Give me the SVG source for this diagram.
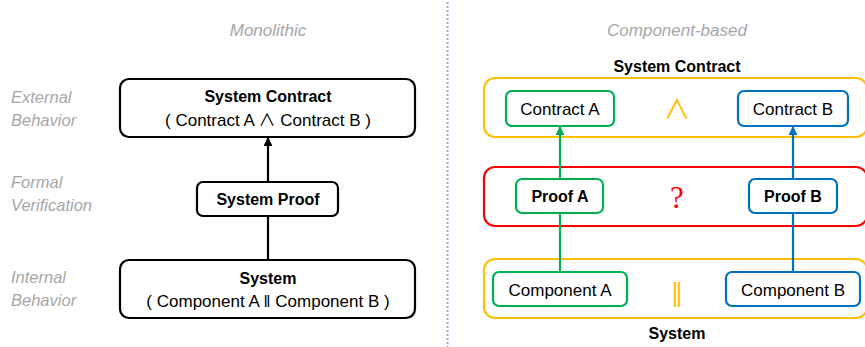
<svg xmlns="http://www.w3.org/2000/svg" width="865" height="347" viewBox="0 0 865 347">
  <style>
    .bg { fill: #ffffff; }
    .caption { font-family: "Liberation Sans", Arial, sans-serif; font-style: italic; font-size: 16.5px; fill: #a6a6a6; }
    .title { font-size: 17px; }
    .t { font-family: "Liberation Sans", Arial, sans-serif; font-size: 17px; fill: #000000; }
    .b { font-weight: bold; font-size: 16px; }
    .mid { text-anchor: middle; }
    .sym { font-family: "DejaVu Sans", sans-serif; }
    .wedge { font-family: "Noto Sans CJK SC", "DejaVu Sans", sans-serif; font-weight: 400; }
    .box { fill: #ffffff; stroke: #000000; stroke-width: 2.2; }
    .green { fill: #ffffff; stroke: #00b050; stroke-width: 2.2; }
    .blue { fill: #ffffff; stroke: #0070c0; stroke-width: 2.2; }
    .orange { fill: none; stroke: #ffc000; stroke-width: 2.2; }
    .red { fill: none; stroke: #ff0000; stroke-width: 2.2; }
    .divider { stroke: #8faadc; stroke-width: 2; stroke-dasharray: 2 2; }
  </style>
  <defs>
    <marker id="arrow-black" viewBox="0 0 10 10" refX="9" refY="5" markerWidth="4" markerHeight="4" orient="auto">
      <path d="M0,0 L10,5 L0,10 z" fill="#000000"/>
    </marker>
    <marker id="arrow-green" viewBox="0 0 10 10" refX="9" refY="5" markerWidth="4" markerHeight="4" orient="auto">
      <path d="M0,0 L10,5 L0,10 z" fill="#00b050"/>
    </marker>
    <marker id="arrow-blue" viewBox="0 0 10 10" refX="9" refY="5" markerWidth="4" markerHeight="4" orient="auto">
      <path d="M0,0 L10,5 L0,10 z" fill="#0070c0"/>
    </marker>
  </defs>

  <rect class="bg" x="0" y="0" width="865" height="347"/>

  <!-- column titles -->
  <text class="caption title mid" x="268" y="36">Monolithic</text>
  <text class="caption title mid" x="677" y="36">Component-based</text>

  <!-- row labels -->
  <g id="row-labels">
    <text class="caption" x="11" y="103">External</text>
    <text class="caption" x="11" y="126">Behavior</text>
    <text class="caption" x="11" y="188">Formal</text>
    <text class="caption" x="11" y="211">Verification</text>
    <text class="caption" x="11" y="283">Internal</text>
    <text class="caption" x="11" y="306">Behavior</text>
  </g>

  <!-- separator between the two approaches -->
  <line class="divider" x1="447.5" y1="2" x2="447.5" y2="347"/>

  <!-- component-based layers (drawn first, behind the nodes) -->
  <g id="layer-contract">
    <rect class="orange" x="484" y="78" width="383" height="59" rx="11"/>
    <text class="t b mid" x="677" y="72">System Contract</text>
    <text class="wedge mid" x="677" y="119" font-size="27" fill="#ffc000">∧</text>
  </g>
  <g id="layer-proof">
    <rect class="red" x="484" y="167" width="383" height="59" rx="11"/>
    <text class="mid" x="677" y="208" font-family="Liberation Serif, serif" font-size="31" fill="#ff0000">?</text>
  </g>
  <g id="layer-system">
    <rect class="orange" x="484" y="259" width="383" height="59" rx="11"/>
    <text class="sym mid" x="677" y="301" font-size="25" fill="#ffc000">‖</text>
    <text class="t b mid" x="677" y="339">System</text>
  </g>

  <!-- connectors -->
  <g id="connectors">
    <line x1="268" y1="260" x2="268" y2="182" stroke="#000000" stroke-width="2.2"/>
    <line x1="268" y1="182" x2="268" y2="138" stroke="#000000" stroke-width="2.2" marker-end="url(#arrow-black)"/>
    <line x1="560" y1="272" x2="560" y2="179" stroke="#00b050" stroke-width="2.2"/>
    <line x1="560" y1="179" x2="560" y2="127" stroke="#00b050" stroke-width="2.2" marker-end="url(#arrow-green)"/>
    <line x1="793" y1="272" x2="793" y2="179" stroke="#0070c0" stroke-width="2.2"/>
    <line x1="793" y1="179" x2="793" y2="127" stroke="#0070c0" stroke-width="2.2" marker-end="url(#arrow-blue)"/>
  </g>

  <!-- monolithic nodes -->
  <g id="mono-contract">
    <rect class="box" x="120" y="79" width="295" height="58" rx="9"/>
    <text class="t b mid" x="268" y="102">System Contract</text>
    <text class="t mid" x="268" y="126">( Contract A <tspan class="wedge" font-size="17">∧</tspan> Contract B )</text>
  </g>
  <g id="mono-proof">
    <rect class="box" x="197" y="182" width="141" height="34" rx="6"/>
    <text class="t b mid" x="268" y="205">System Proof</text>
  </g>
  <g id="mono-system">
    <rect class="box" x="120" y="260" width="295" height="58" rx="9"/>
    <text class="t b mid" x="268" y="284">System</text>
    <text class="t mid" x="268" y="307">( Component A ‖ Component B )</text>
  </g>

  <!-- component-based nodes -->
  <g id="contract-a">
    <rect class="green" x="506" y="91" width="108" height="35" rx="6"/>
    <text class="t mid" x="560" y="115">Contract A</text>
  </g>
  <g id="contract-b">
    <rect class="blue" x="738" y="91" width="110" height="35" rx="6"/>
    <text class="t mid" x="793" y="115">Contract B</text>
  </g>
  <g id="proof-a">
    <rect class="green" x="516" y="179" width="87" height="34" rx="6"/>
    <text class="t b mid" x="560" y="202">Proof A</text>
  </g>
  <g id="proof-b">
    <rect class="blue" x="749" y="179" width="88" height="34" rx="6"/>
    <text class="t b mid" x="793" y="202">Proof B</text>
  </g>
  <g id="component-a">
    <rect class="green" x="493" y="272" width="134" height="34" rx="6"/>
    <text class="t mid" x="560" y="296">Component A</text>
  </g>
  <g id="component-b">
    <rect class="blue" x="726" y="272" width="134" height="34" rx="6"/>
    <text class="t mid" x="793" y="296">Component B</text>
  </g>
</svg>
